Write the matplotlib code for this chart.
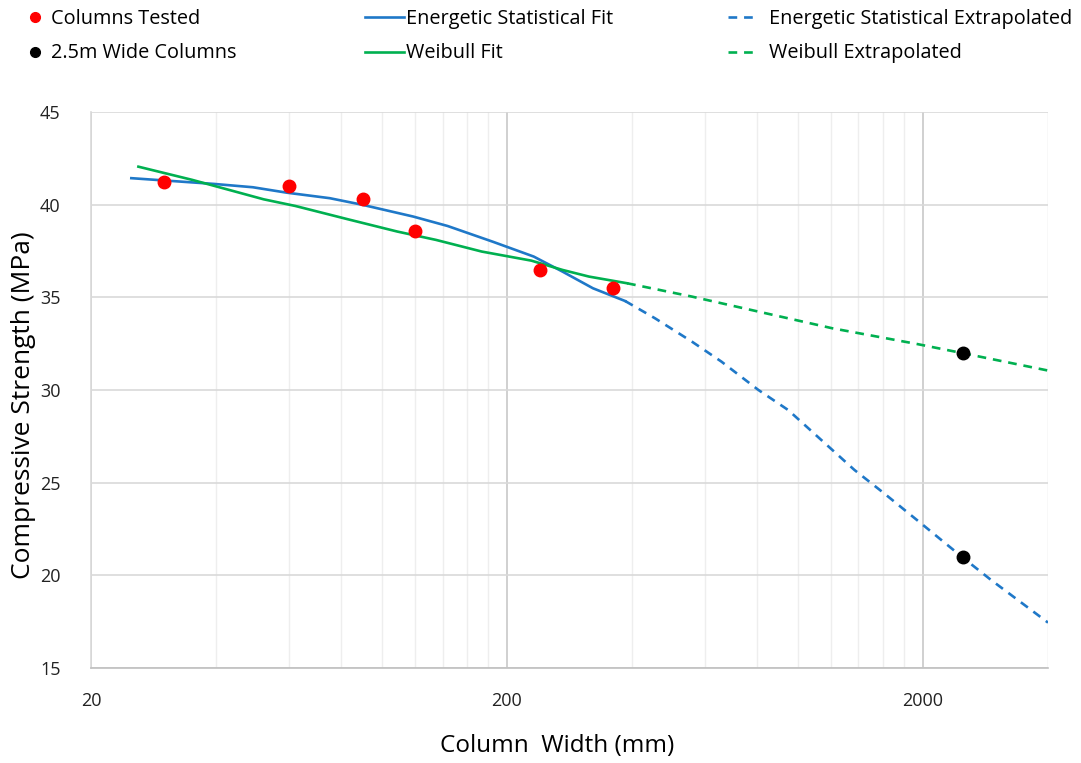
import matplotlib
matplotlib.use("Agg")
import matplotlib.pyplot as plt
from matplotlib.lines import Line2D
from matplotlib.ticker import FixedLocator, NullFormatter

plt.rcParams['font.family'] = ['Open Sans', 'DejaVu Sans']

# measured columns
tested_w = [30, 60, 90, 120, 240, 360]
tested_s = [41.2, 41.0, 40.3, 38.6, 36.5, 35.5]

wide_w = [2500, 2500]
wide_s = [32.0, 21.0]

# energetic statistical fit (solid) and extrapolation (dashed)
esl_fit_w = [25, 39.5, 49, 59, 75, 90, 119, 144, 185, 232, 272, 322, 385]
esl_fit_s = [41.43, 41.12, 40.94, 40.65, 40.35, 39.99, 39.36, 38.85, 38.0, 37.2, 36.39, 35.49, 34.8]
esl_ext_w = [385, 454, 557, 656, 805, 949, 1164, 1369, 1613, 1979, 2479, 2918, 4000]
esl_ext_s = [34.8, 33.87, 32.61, 31.53, 30.0, 28.92, 27.12, 25.69, 24.43, 22.81, 21.01, 19.75, 17.45]

# weibull fit (solid) and extrapolation (dashed)
wb_fit_w = [26, 35, 52, 62, 83, 109, 135, 174, 229, 272, 315, 389]
wb_fit_s = [42.05, 41.34, 40.29, 39.93, 39.21, 38.55, 38.1, 37.47, 36.98, 36.48, 36.12, 35.76]
wb_ext_w = [389, 557, 805, 1212, 1939, 2479, 4000]
wb_ext_s = [35.76, 35.04, 34.23, 33.33, 32.48, 32.0, 31.05]

blue = '#1F78C8'
green = '#00B050'

fig = plt.figure(figsize=(10.81, 7.63), dpi=100)
ax = fig.add_axes([0.0842, 0.1245, 0.8853, 0.7287])

ax.set_xscale('log')
ax.set_xlim(20, 4000)
ax.set_ylim(15, 45)

major_x = [20, 200, 2000]
minor_x = [k * 20 * 10 ** n for n in range(3) for k in range(2, 10)] + [4000]
ax.xaxis.set_major_locator(FixedLocator(major_x))
ax.xaxis.set_minor_locator(FixedLocator(minor_x))
ax.xaxis.set_minor_formatter(NullFormatter())
ax.set_xticklabels([str(v) for v in major_x])
ax.set_yticks(range(15, 50, 5))

ax.grid(True, which='major', axis='y', color='#d9d9d9', lw=1.2)
ax.grid(True, which='major', axis='x', color='#c8c8c8', lw=1.2)
ax.grid(True, which='minor', axis='x', color='#eeeeee', lw=1.0)
ax.set_axisbelow(True)

for s in ['top', 'right']:
    ax.spines[s].set_visible(False)
ax.spines['left'].set_color('#d9d9d9')
ax.spines['bottom'].set_color('#bfbfbf')
ax.spines['left'].set_linewidth(1.2)
ax.spines['bottom'].set_linewidth(1.2)

ax.tick_params(axis='both', which='both', length=0, labelsize=13, colors='#222222')
ax.tick_params(axis='x', pad=17)
ax.tick_params(axis='y', pad=22)

lw = 1.9
ax.plot(esl_fit_w, esl_fit_s, color=blue, lw=lw)
ax.plot(esl_ext_w, esl_ext_s, color=blue, lw=lw, dashes=(3.3, 2.6))
ax.plot(wb_fit_w, wb_fit_s, color=green, lw=lw)
ax.plot(wb_ext_w, wb_ext_s, color=green, lw=lw, dashes=(3.3, 2.6))
ax.plot(tested_w, tested_s, 'o', color='#FF0000', ms=9, zorder=5)
ax.plot(wide_w, wide_s, 'o', color='black', ms=9, zorder=5)

ax.set_ylabel('Compressive Strength (MPa)', fontsize=19)
ax.set_xlabel('Column  Width (mm)', fontsize=17.5)
ax.yaxis.set_label_coords(-0.057, 0.473)
ax.xaxis.set_label_coords(0.487, -0.118)

# legend split into three blocks like the original
leg_kw = dict(frameon=False, fontsize=14.3, labelspacing=0.72, borderaxespad=0, borderpad=0)
h1 = [Line2D([0], [0], ls='none', marker='o', color='#FF0000', ms=7),
      Line2D([0], [0], ls='none', marker='o', color='black', ms=7)]
fig.legend(h1, ['Columns Tested', '2.5m Wide Columns'], loc='upper left',
           bbox_to_anchor=(0.025, 0.988), handlelength=0.8, handletextpad=0.4, **leg_kw)
h2 = [Line2D([0], [0], color=blue, lw=lw), Line2D([0], [0], color=green, lw=lw)]
fig.legend(h2, ['Energetic Statistical Fit', 'Weibull Fit'], loc='upper left',
           bbox_to_anchor=(0.338, 0.988), handlelength=1.96, handletextpad=0.1, **leg_kw)
h3 = [Line2D([0], [0], color=blue, lw=lw, dashes=(3.3, 2.6)),
      Line2D([0], [0], color=green, lw=lw, dashes=(3.3, 2.6))]
fig.legend(h3, ['Energetic Statistical Extrapolated', 'Weibull Extrapolated'], loc='upper left',
           bbox_to_anchor=(0.673, 0.988), handlelength=1.6, handletextpad=0.5, **leg_kw)

fig.savefig('out.png', dpi=100)
